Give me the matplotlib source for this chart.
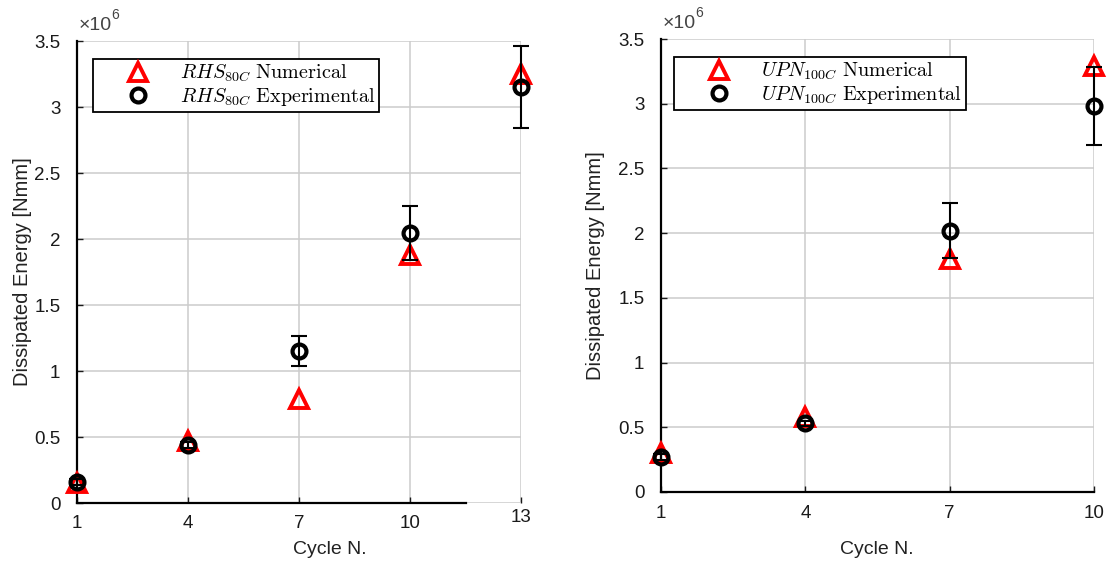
import matplotlib
matplotlib.use("Agg")
import matplotlib.pyplot as plt
from matplotlib.lines import Line2D
from matplotlib.ticker import FuncFormatter, FixedLocator
from matplotlib.transforms import ScaledTranslation

plt.rcParams['font.family'] = ['Liberation Sans', 'DejaVu Sans']
plt.rcParams['mathtext.fontset'] = 'cm'

# ---- data (values in 1e6 Nmm) ----
rhs_cycles = [1, 4, 7, 10, 13]
rhs_num = [0.15, 0.47, 0.79, 1.88, 3.25]
rhs_exp = [0.16, 0.44, 1.15, 2.045, 3.15]
rhs_err = [0.02, 0.02, 0.115, 0.205, 0.31]

upn_cycles = [1, 4, 7, 10]
upn_num = [0.30, 0.58, 1.80, 3.29]
upn_exp = [0.27, 0.53, 2.02, 2.98]
upn_err = [0.02, 0.02, 0.21, 0.30]

rhs_xticks = [1, 4, 7, 10, 13]
upn_xticks = [1, 4, 7, 10]
yticks = [0, 0.5, 1, 1.5, 2, 2.5, 3, 3.5]

rhs_labels = [r'$RHS_{80C}\ \mathrm{Numerical}$', r'$RHS_{80C}\ \mathrm{Experimental}$']
upn_labels = [r'$UPN_{100C}\ \mathrm{Numerical}$', r'$UPN_{100C}\ \mathrm{Experimental}$']

fig = plt.figure(figsize=(11.11, 5.73), dpi=100)
ax1 = fig.add_axes([77/1111, 1-503/573, (521-77)/1111, (503-41)/573])
ax2 = fig.add_axes([661/1111, 1-492/573, (1094-661)/1111, (492-39)/573])

fmt = FuncFormatter(lambda v, p: ('%g' % v))

def draw(ax, cyc, num, exp, err, xticks, labels, legbox, xlab, ylab_x):
    ax.plot(cyc, num, linestyle='none', marker='^', markersize=12.5,
            markerfacecolor='none', markeredgecolor='red', markeredgewidth=2.8,
            clip_on=False, zorder=3)
    ax.errorbar(cyc, exp, yerr=err, fmt='none', ecolor='black', elinewidth=1.5,
                capsize=5.5, capthick=1.5, clip_on=False, zorder=4)
    ax.plot(cyc, exp, linestyle='none', marker='o', markersize=10,
            markerfacecolor='none', markeredgecolor='black', markeredgewidth=3,
            clip_on=False, zorder=5)
    ax.set_xlim(xticks[0], xticks[-1])
    ax.set_ylim(0, 3.5)
    ax.xaxis.set_major_locator(FixedLocator(xticks))
    ax.yaxis.set_major_locator(FixedLocator(yticks))
    ax.yaxis.set_major_formatter(fmt)
    ax.grid(True, color='#cccccc', linewidth=1.1)
    ax.set_axisbelow(True)
    for s in ['top', 'right']:
        ax.spines[s].set_visible(False)
    for s in ['left', 'bottom']:
        ax.spines[s].set_linewidth(1.6)
    ax.tick_params(direction='in', length=4, width=1, labelsize=13.5, colors='#1a1a1a')
    ax.tick_params(axis='y', pad=12)
    ax.tick_params(axis='x', pad=9)
    ax.set_xlabel('Cycle N.', fontsize=14, color='#222222')
    ax.set_ylabel('Dissipated Energy [Nmm]', fontsize=14.5, color='#222222')
    ax.xaxis.set_label_coords(xlab[0], xlab[1])
    ax.yaxis.set_label_coords(ylab_x, 0.5)
    ax.annotate('\u00d710', xy=(0, 1), xycoords='axes fraction', xytext=(2, 7),
                textcoords='offset pixels', fontsize=14, ha='left', va='bottom',
                color='#444444')
    ax.annotate('6', xy=(0, 1), xycoords='axes fraction', xytext=(34, 19),
                textcoords='offset pixels', fontsize=10, ha='left', va='bottom',
                color='#444444')
    handles = [Line2D([], [], linestyle='none', marker='^', markersize=12.5, markerfacecolor='none',
                      markeredgecolor='red', markeredgewidth=2.8),
               Line2D([], [], linestyle='none', marker='o', markersize=10, markerfacecolor='none',
                      markeredgecolor='black', markeredgewidth=3)]
    leg = ax.legend(handles, labels, loc='upper left', bbox_to_anchor=legbox,
                    fontsize=14.5, frameon=True, fancybox=False, framealpha=1,
                    edgecolor='black', borderpad=0.2, handletextpad=0.0,
                    labelspacing=0.1, handlelength=4.1, borderaxespad=0)
    leg.get_frame().set_linewidth(1.3)

# legend box positions in axes coords
draw(ax1, rhs_cycles, rhs_num, rhs_exp, rhs_err, rhs_xticks, rhs_labels,
     ((93-77)/444, (503-59)/462), ((330-77)/444, -(541-503)/462), (32-77)/444)
draw(ax2, upn_cycles, upn_num, upn_exp, upn_err, upn_xticks, upn_labels,
     ((674-661)/433, (492-57)/453), ((877-661)/433, -(541-492)/453), (605-661)/433)

# bottom spine of left panel stops short in the reference, and its last label sits higher
ax1.spines['bottom'].set_bounds(1, 11.5)
last_tick = ax1.xaxis.get_major_ticks()[-1]
last_tick.label1.set_transform(last_tick.label1.get_transform() +
                               ScaledTranslation(0, 0.07, fig.dpi_scale_trans))

fig.savefig('out.png', dpi=100)
